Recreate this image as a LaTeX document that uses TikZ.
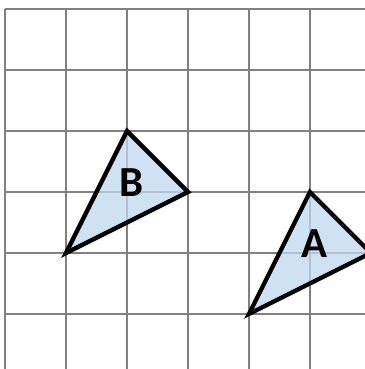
\documentclass[tikz,border=0pt]{standalone}
\usepackage{fontspec}
\setmainfont{Carlito}
\definecolor{gridgrey}{RGB}{128,128,128}
\definecolor{shapeblue}{RGB}{191,216,239}

\begin{document}
\begin{tikzpicture}
\useasboundingbox (-0.082,0.098) rectangle (5.902,6.148);
\clip (-0.082,0.098) rectangle (5.902,6.148);
\begin{scope}[draw=gridgrey]
\draw[gridgrey,line width=1pt] (0.000,0) -- (0.000,6.000);
\draw[gridgrey,line width=1pt] (1.000,0) -- (1.000,6.000);
\draw[gridgrey,line width=1pt] (2.000,0) -- (2.000,6.000);
\draw[gridgrey,line width=1pt] (3.000,0) -- (3.000,6.000);
\draw[gridgrey,line width=1pt] (4.000,0) -- (4.000,6.000);
\draw[gridgrey,line width=1pt] (5.000,0) -- (5.000,6.000);
\draw[gridgrey,line width=1pt] (0,1.000) -- (6.000,1.000);
\draw[gridgrey,line width=1pt] (0,2.000) -- (6.000,2.000);
\draw[gridgrey,line width=1pt] (0,3.000) -- (6.000,3.000);
\draw[gridgrey,line width=1pt] (0,4.000) -- (6.000,4.000);
\draw[gridgrey,line width=1pt] (0,5.000) -- (6.000,5.000);
\draw[gridgrey,line width=1pt] (0,6.000) -- (6.000,6.000);
\end{scope}
\draw[line width=2pt,line join=miter,fill=shapeblue,fill opacity=0.75] (2.000,4.000) -- (3.000,3.000) -- (1.000,2.000) -- cycle;
\draw[line width=2pt,line join=miter,fill=shapeblue,fill opacity=0.75] (5.000,3.000) -- (6.000,2.000) -- (4.000,1.000) -- cycle;
\node (labelB) at (2.080,3.150) {\fontsize{20}{24}\selectfont\bfseries B};
\node (labelA) at (5.070,2.160) {\fontsize{20}{24}\selectfont\bfseries A};
\end{tikzpicture}
\end{document}
